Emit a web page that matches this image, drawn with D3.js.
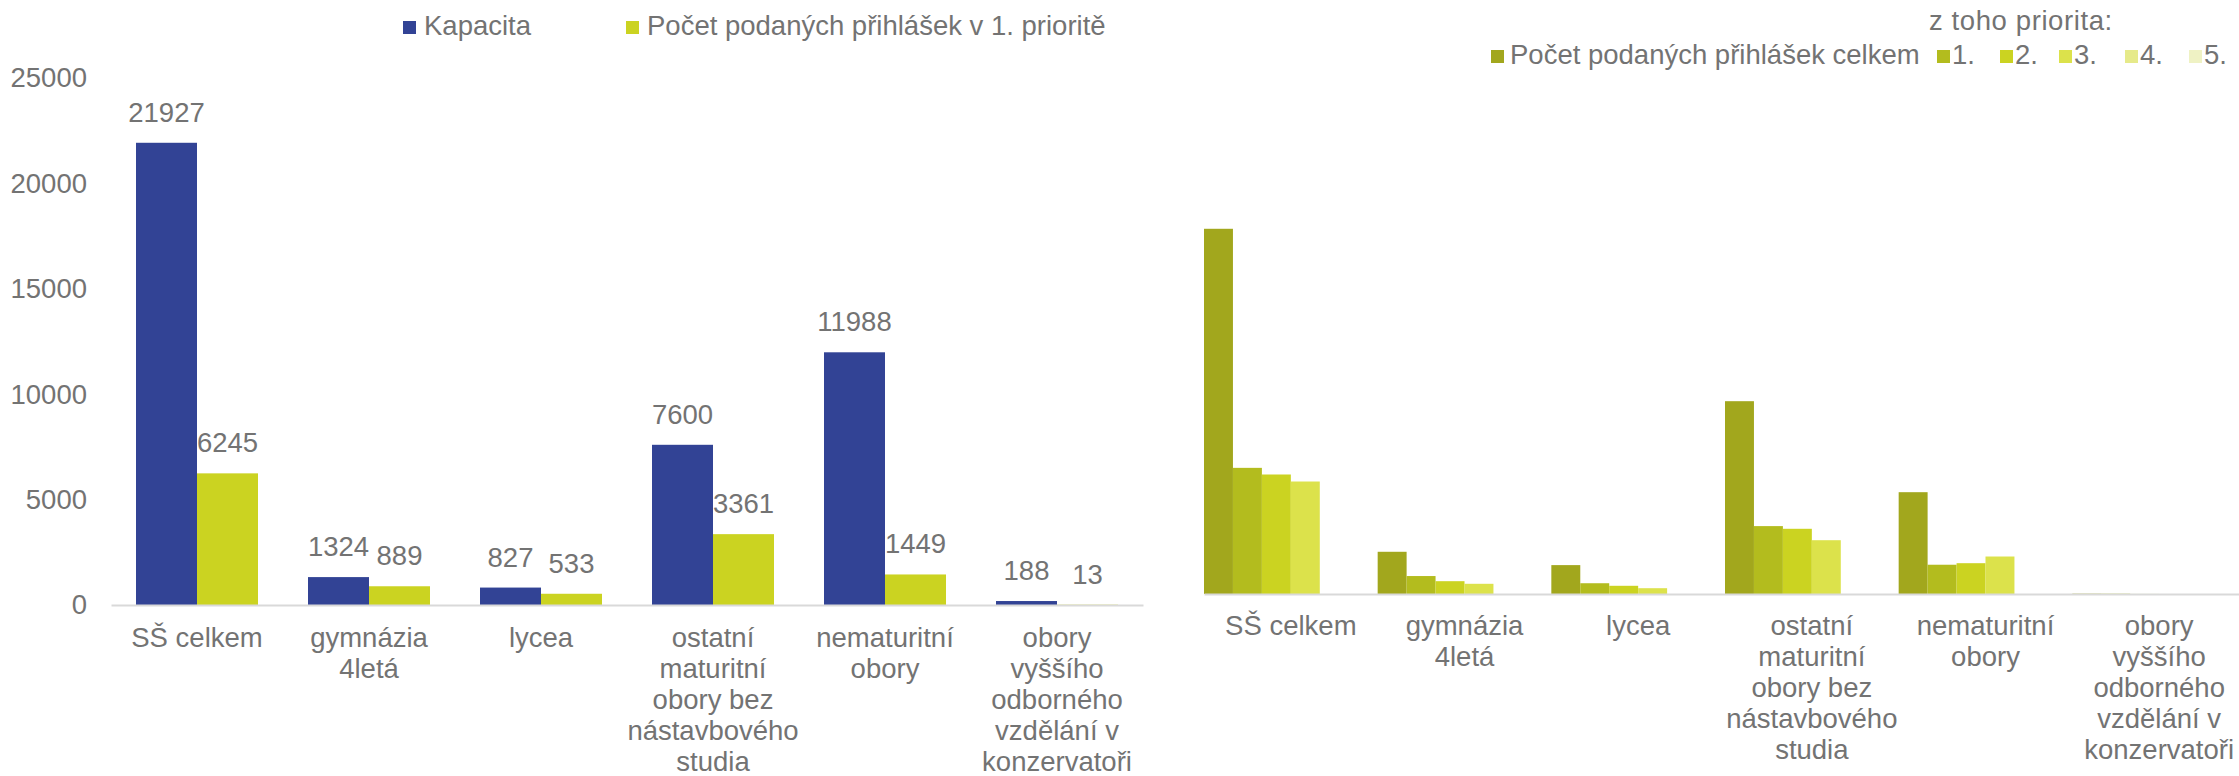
<!DOCTYPE html>
<html>
<head>
<meta charset="utf-8">
<script src="https://cdn.jsdelivr.net/npm/d3@7"></script>
<style>
  body { margin: 0; background: #fff; }
  svg text { font-family: "Liberation Sans", Arial, sans-serif; fill: #737373; }
</style>
</head>
<body>
<svg width="2239" height="776"></svg>
<script>
// categories (one per group, in both charts)
var categories = ["SŠ celkem", "gymnázia 4letá", "lycea",
  "ostatní maturitní obory bez nástavbového studia", "nematuritní obory",
  "obory vyššího odborného vzdělání v konzervatoři"];
var categoryLines = [["SŠ celkem"], ["gymnázia", "4letá"], ["lycea"],
  ["ostatní", "maturitní", "obory bez", "nástavbového", "studia"],
  ["nematuritní", "obory"],
  ["obory", "vyššího", "odborného", "vzdělání v", "konzervatoři"]];

// left chart
var kapacita = [21927, 1324, 827, 7600, 11988, 188];
var prvniPriorita = [6245, 889, 533, 3361, 1449, 13];
var yTicks = [0, 5000, 10000, 15000, 20000, 25000];

// right chart (no axis in the picture)
var prihlaskyCelkem = [18080, 2090, 1430, 9545, 5040, 15];
var priorita1 = [6245, 889, 533, 3361, 1449, 13];
var priorita2 = [5916, 634, 406, 3228, 1525, 2];
var priorita3 = [5569, 505, 287, 2663, 1856, 0];
var priorita4 = [0, 0, 0, 0, 0, 0];
var priorita5 = [0, 0, 0, 0, 0, 0];

var svg = d3.select("svg");
var fs = 27.5;

/* ---------- left chart ---------- */
var leftSeries = [
  {name: "Kapacita", values: kapacita, color: "#324395"},
  {name: "Počet podaných přihlášek v 1. prioritě", values: prvniPriorita, color: "#cbd321"}
];

var x0 = d3.scaleBand().domain(categories).range([111, 1143])
  .paddingInner(50 / 172).paddingOuter(25 / 172);
var x1 = d3.scaleBand().domain(leftSeries.map(function(s) { return s.name; }))
  .range([0, x0.bandwidth()]);
var y = d3.scaleLinear().domain([0, 25000]).range([605, 78]);

var left = svg.append("g");

var yAxis = left.append("g")
  .attr("transform", "translate(111,0)")
  .call(d3.axisLeft(y).tickValues(yTicks).tickFormat(d3.format("d")).tickSize(0).tickPadding(24));
yAxis.select(".domain").remove();
yAxis.selectAll("text").style("font-size", fs + "px").attr("font-family", null).attr("fill", null);

leftSeries.forEach(function(s) {
  left.append("g").selectAll("rect")
    .data(s.values)
    .enter().append("rect")
      .attr("x", function(d, i) { return x0(categories[i]) + x1(s.name); })
      .attr("y", function(d) { return y(d); })
      .attr("width", x1.bandwidth())
      .attr("height", function(d) { return y(0) - y(d); })
      .attr("fill", s.color);

  left.append("g").selectAll("text")
    .data(s.values)
    .enter().append("text")
      .attr("x", function(d, i) { return x0(categories[i]) + x1(s.name) + x1.bandwidth() / 2; })
      .attr("y", function(d) { return y(d) - 21; })
      .attr("text-anchor", "middle")
      .style("font-size", fs + "px")
      .text(function(d) { return d; });
});

var xAxisL = left.append("g")
  .attr("transform", "translate(0,605)")
  .call(d3.axisBottom(x0).tickSize(0).tickSizeOuter(0).tickFormat(""));
xAxisL.attr("font-family", null);
xAxisL.select(".domain").attr("stroke", "#d9d9d9").attr("stroke-width", 2);
xAxisL.selectAll(".tick").each(function(d, i) {
  var t = d3.select(this).append("text")
    .attr("text-anchor", "middle")
    .style("font-size", fs + "px");
  categoryLines[i].forEach(function(line, j) {
    t.append("tspan").attr("x", 0).attr("y", 42 + j * 31).text(line);
  });
});

// left legend
var legL = left.append("g");
var legLx = [403, 626];
leftSeries.forEach(function(s, i) {
  legL.append("rect").attr("x", legLx[i]).attr("y", 21).attr("width", 13).attr("height", 13).attr("fill", s.color);
  legL.append("text").attr("x", legLx[i] + 21).attr("y", 35).style("font-size", fs + "px").text(s.name);
});

/* ---------- right chart ---------- */
var rightSeries = [
  {name: "Počet podaných přihlášek celkem", values: prihlaskyCelkem, color: "#a2a71d"},
  {name: "1.", values: priorita1, color: "#b3bc1e"},
  {name: "2.", values: priorita2, color: "#cbd321"},
  {name: "3.", values: priorita3, color: "#dce24b"},
  {name: "4.", values: priorita4, color: "#e6ea8a"},
  {name: "5.", values: priorita5, color: "#eff2c4"}
];

var xr0 = d3.scaleBand().domain(categories).range([1204, 2246]).padding(0);
var xr1 = d3.scaleBand().domain(rightSeries.map(function(s) { return s.name; }))
  .range([0, xr0.bandwidth()]);
var yr = d3.scaleLinear().domain([0, 18000]).range([594, 594 - 18000 * 0.0202]);

var right = svg.append("g");

rightSeries.forEach(function(s) {
  right.append("g").selectAll("rect")
    .data(s.values)
    .enter().append("rect")
      .attr("x", function(d, i) { return xr0(categories[i]) + xr1(s.name); })
      .attr("y", function(d) { return yr(d); })
      .attr("width", xr1.bandwidth())
      .attr("height", function(d) { return yr(0) - yr(d); })
      .attr("fill", s.color);
});

var xAxisR = right.append("g")
  .attr("transform", "translate(0,594)")
  .call(d3.axisBottom(xr0).tickSize(0).tickSizeOuter(0).tickFormat(""));
xAxisR.attr("font-family", null);
xAxisR.select(".domain").attr("stroke", "#d9d9d9").attr("stroke-width", 2);
xAxisR.selectAll(".tick").each(function(d, i) {
  var t = d3.select(this).append("text")
    .attr("text-anchor", "middle")
    .style("font-size", fs + "px");
  categoryLines[i].forEach(function(line, j) {
    t.append("tspan").attr("x", 0).attr("y", 41 + j * 31).text(line);
  });
});

// right legend
var legR = right.append("g");
legR.append("text").attr("x", 1929).attr("y", 30).style("font-size", fs + "px")
  .attr("letter-spacing", 0.6).text("z toho priorita:");
var legRx = [1491, 1937, 2000, 2059, 2125, 2189];
rightSeries.forEach(function(s, i) {
  legR.append("rect").attr("x", legRx[i]).attr("y", 50).attr("width", 13).attr("height", 13).attr("fill", s.color);
  legR.append("text").attr("x", legRx[i] + (i === 0 ? 19 : 15)).attr("y", 64).style("font-size", fs + "px").text(s.name);
});
</script>
</body>
</html>
